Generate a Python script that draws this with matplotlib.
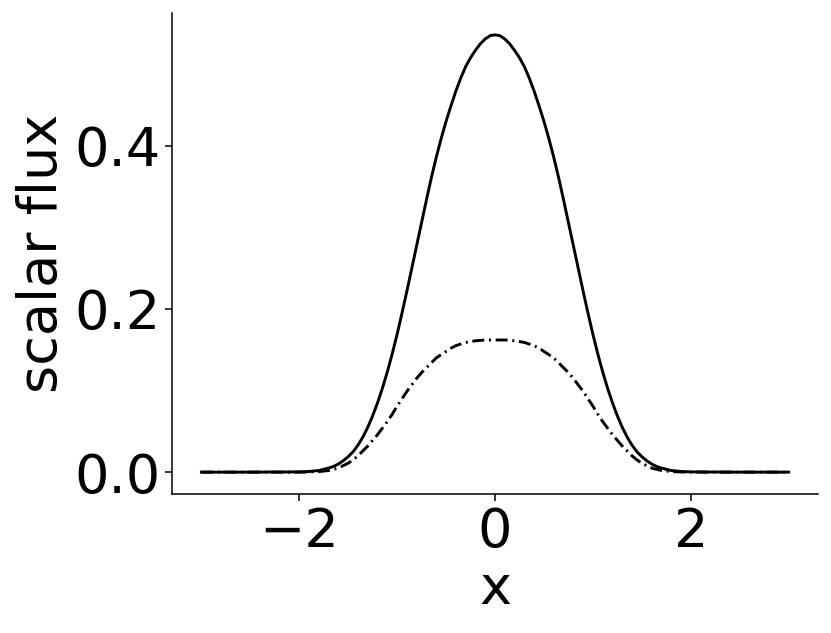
import matplotlib
matplotlib.use("Agg")
import matplotlib.pyplot as plt

x = [-3.0, -2.5, -2.0, -1.9, -1.8, -1.7,
     -1.65, -1.6, -1.55, -1.5, -1.45, -1.4, -1.35, -1.3, -1.25, -1.2,
     -1.15, -1.1, -1.05, -1.0, -0.95, -0.9, -0.85, -0.8, -0.75, -0.7,
     -0.65, -0.6, -0.55, -0.5, -0.45, -0.4, -0.35, -0.3, -0.25, -0.2,
     -0.15, -0.1, -0.05,
     0.0,
     0.05, 0.1, 0.15, 0.2, 0.25, 0.3, 0.35, 0.4, 0.45, 0.5,
     0.55, 0.6, 0.65, 0.7, 0.75, 0.8, 0.85, 0.9, 0.95, 1.0,
     1.05, 1.1, 1.15, 1.2, 1.25, 1.3, 1.35, 1.4, 1.45, 1.5,
     1.55, 1.6, 1.65, 1.7, 1.8, 1.9, 2.0, 2.5, 3.0]

flux_solid = [0.0, 0.0, 0.0003, 0.0008, 0.002, 0.005,
              0.007, 0.010, 0.014, 0.019, 0.025, 0.033, 0.043, 0.055, 0.069, 0.085,
              0.103, 0.123, 0.145, 0.169, 0.195, 0.222, 0.250, 0.278, 0.306, 0.334,
              0.361, 0.386, 0.409, 0.430, 0.449, 0.467, 0.483, 0.497, 0.508, 0.517,
              0.525, 0.531, 0.535,
              0.536,
              0.535, 0.531, 0.525, 0.517, 0.508, 0.497, 0.483, 0.467, 0.449, 0.430,
              0.409, 0.386, 0.361, 0.334, 0.306, 0.278, 0.250, 0.222, 0.195, 0.169,
              0.145, 0.123, 0.103, 0.085, 0.069, 0.055, 0.043, 0.033, 0.025, 0.019,
              0.014, 0.010, 0.007, 0.005, 0.002, 0.0008, 0.0003, 0.0, 0.0]

flux_dashdot = [0.0, 0.0, 0.0, 0.0002, 0.0007, 0.002,
                0.0035, 0.005, 0.008, 0.011, 0.015, 0.020, 0.026, 0.032, 0.039, 0.046,
                0.054, 0.062, 0.071, 0.081, 0.090, 0.099, 0.107, 0.115, 0.122, 0.128,
                0.134, 0.140, 0.144, 0.148, 0.152, 0.155, 0.157, 0.159, 0.160, 0.161,
                0.1615, 0.162, 0.162,
                0.162,
                0.162, 0.162, 0.1615, 0.161, 0.160, 0.159, 0.157, 0.155, 0.152, 0.148,
                0.144, 0.140, 0.134, 0.128, 0.122, 0.115, 0.107, 0.099, 0.090, 0.081,
                0.071, 0.062, 0.054, 0.046, 0.039, 0.032, 0.026, 0.020, 0.015, 0.011,
                0.008, 0.005, 0.0035, 0.002, 0.0007, 0.0002, 0.0, 0.0, 0.0]

xticks = [-2, 0, 2]
yticks = [0.0, 0.2, 0.4]
xtick_labels = ['\u22122', '0', '2']
ytick_labels = ['0.0', '0.2', '0.4']

plt.rcParams['font.family'] = ['DejaVu Sans']
fig = plt.figure(figsize=(8.31, 6.33), dpi=100)
ax = fig.add_axes([172/831, 1 - 494/633, (818-172)/831, (494-13)/633])

ax.plot(x, flux_solid, color='black', linestyle='-', linewidth=2.1)
ax.plot(x, flux_dashdot, color='black', linestyle=(0, (4.1, 1.6, 0.7, 1.6)), linewidth=2.1)

ax.set_xticks(xticks)
ax.set_yticks(yticks)
ax.set_xticklabels(xtick_labels)
ax.set_yticklabels(ytick_labels)
ax.tick_params(labelsize=39, length=5, width=1.1, colors='black')
ax.set_xlabel('x', fontsize=39)
ax.set_ylabel('scalar flux', fontsize=39)

ax.spines['top'].set_visible(False)
ax.spines['right'].set_visible(False)
for s in ('left', 'bottom'):
    ax.spines[s].set_linewidth(1.1)

fig.savefig('out.png', dpi=100)
